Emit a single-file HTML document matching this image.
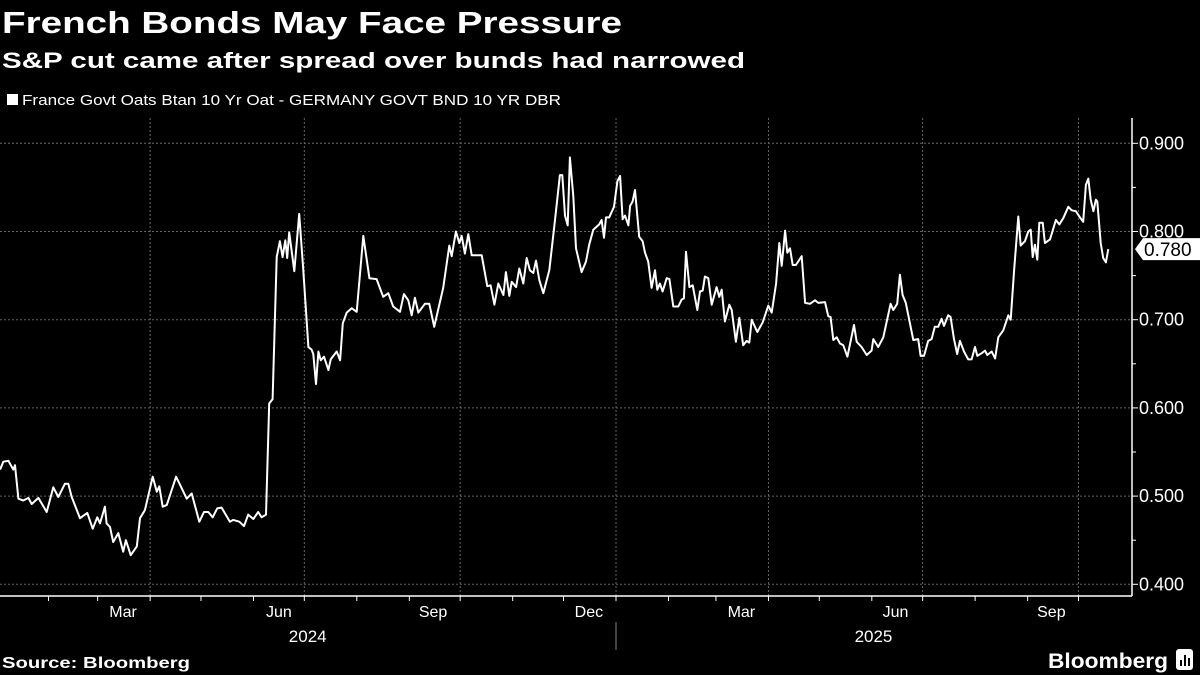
<!DOCTYPE html>
<html><head><meta charset="utf-8"><style>
html,body{margin:0;padding:0;background:#000;}
svg{display:block;font-family:"Liberation Sans",sans-serif;}
</style></head><body>
<svg id="chart" width="1200" height="675" viewBox="0 0 1200 675">
<rect width="1200" height="675" fill="#000"/>
<text x="2" y="33" fill="#fff" font-size="31" font-weight="bold" textLength="620" lengthAdjust="spacingAndGlyphs">French Bonds May Face Pressure</text>
<text x="2" y="68" fill="#fff" font-size="22" font-weight="bold" textLength="743" lengthAdjust="spacingAndGlyphs">S&amp;P cut came after spread over bunds had narrowed</text>
<g>
<rect x="7" y="94" width="11" height="11" fill="#fff"/>
<text x="22" y="105" fill="#fff" font-size="15" textLength="539" lengthAdjust="spacingAndGlyphs">France Govt Oats Btan 10 Yr Oat - GERMANY GOVT BND 10 YR DBR</text>
</g>
<g id="grid"></g>
<g id="axes"></g>
<g id="series"></g>
<text x="2" y="668" fill="#fff" font-size="16" font-weight="bold" textLength="188" lengthAdjust="spacingAndGlyphs">Source: Bloomberg</text>
<g>
<text x="1048" y="668" fill="#fff" font-size="21" font-weight="bold" textLength="120" lengthAdjust="spacingAndGlyphs">Bloomberg</text>
<rect x="1176" y="649" width="17" height="21" rx="3" fill="#fff"/>
<rect x="1180" y="660" width="2" height="6" fill="#000"/><rect x="1184" y="655" width="2" height="11" fill="#000"/><rect x="1188" y="658" width="2" height="8" fill="#000"/>
</g>
</svg>
<script>
// days since 2024-01-01
const days = [2.4,4.3,7.3,10.2,11.2,13.2,16.1,19.1,21.1,25,29.9,33.8,36.8,40.7,42.7,44.7,49.6,53.9,57.1,59.8,61.4,64.3,65.3,67.3,69.2,72.2,75.1,76.7,79.5,83.1,85,87.9,92.5,94.9,96.4,98.4,100.8,106.3,109.6,112.6,115.5,120,122.8,125.3,127.9,130.6,133.2,138.1,140.1,143.6,146.4,148.9,151.9,154.8,156.8,159.4,161.3,163.3,165.7,167.6,169.2,170.8,171.9,173.1,176.1,179,181.4,184.4,186.3,187.3,188.9,190.3,191.7,193.6,196.2,197.6,201.1,203.1,204.7,207,210,212.9,216.8,220.4,224.7,228.6,231.6,234.5,
238.5,240.8,243.4,245.4,247.3,249.3,253.2,255.8,258.7,264,267.6,269,271.5,273.5,274.9,276.8,278.8,280.8,286.7,290,292,294.2,296.5,299.5,301,303,304.4,307,308.9,311.3,313.3,315.2,317.2,318.8,320.7,323.1,326.6,330,332.9,334.3,335.9,337.5,338.8,340.8,342.4,345.7,348.3,350.2,352.6,356.1,357.5,358.9,360.1,362,364.8,366.8,368.4,369.9,371.3,373.3,374.3,375.8,377.2,379.7,381.7,383.1,385,387,389,390.4,391.9,393.5,395.9,397.5,399.8,402.8,404.8,406.1,407.3,409.3,411.3,414,415.6,417.2,418.5,420.5,422.5,425.4,427,428.4,430.3,432.9,434.3,436.8,438.8,441.1,443.1,444.7,446.1,449.4,452.6,455.9,457.9,460.5,462.4,463.8,465.8,467.1,468.7,470.3,472.2,
475.6,477.6,480.5,483.5,485.4,489.4,491.3,492.7,494.3,496.3,498.2,500.2,502.6,506.5,508.1,511,514,516.9,517.9,520.8,523.8,528.1,529.7,532,533.6,535.2,537.1,541.5,544.4,545.8,547.8,550.3,552.3,554.2,556.2,558.2,559.6,562.1,563.5,565.5,567.4,569,571.4,573.9,575.9,577.9,579.3,581.9,583.8,585.2,587.8,589.8,591.7,594.6,597.6,599,601,603.5,604.9,607.4,609.4,610.8,612,613.3,614.7,615.9,617.9,619.2,622.2,625.7,627.7,630,633,635,637.5,639.5,641.8,643.4,644.8,646.2,647.8,649.3,650.1,652.1,653.6,655.2,656.6];
const spread = [0.530,0.539,0.540,0.530,0.535,0.497,0.495,0.498,0.491,0.498,0.482,0.510,0.499,0.514,0.514,0.499,0.475,0.481,0.463,0.476,0.469,0.488,0.469,0.465,0.448,0.458,0.437,0.450,0.433,0.443,0.475,0.484,0.522,0.505,0.511,0.488,0.490,0.522,0.509,0.497,0.503,0.471,0.482,0.482,0.476,0.486,0.487,0.471,0.473,0.471,0.466,0.479,0.474,0.482,0.476,0.479,0.605,0.610,0.771,0.789,0.771,0.790,0.770,0.799,0.755,0.820,0.756,0.669,0.666,0.661,0.627,0.664,0.654,0.658,0.643,0.655,0.664,0.654,0.696,0.708,0.713,0.709,0.795,0.747,0.746,0.726,0.730,0.715,
0.709,0.729,0.722,0.705,0.725,0.708,0.718,0.718,0.692,0.736,0.784,0.772,0.800,0.787,0.795,0.775,0.797,0.773,0.773,0.738,0.739,0.717,0.741,0.728,0.754,0.727,0.743,0.737,0.758,0.741,0.770,0.756,0.753,0.767,0.745,0.730,0.756,0.813,0.864,0.864,0.818,0.807,0.884,0.840,0.781,0.754,0.766,0.785,0.802,0.808,0.813,0.793,0.816,0.816,0.828,0.857,0.863,0.814,0.818,0.807,0.829,0.834,0.847,0.794,0.789,0.776,0.766,0.736,0.756,0.734,0.741,0.732,0.747,0.746,0.715,0.715,0.723,0.724,0.777,0.737,0.739,0.711,0.732,0.733,0.749,0.747,0.717,0.737,0.726,0.734,0.698,0.717,0.711,0.675,0.702,0.671,0.676,0.674,0.700,0.686,0.697,0.716,0.708,0.741,0.787,0.761,0.801,0.776,0.781,0.762,0.762,
0.772,0.719,0.718,0.722,0.719,0.720,0.704,0.703,0.677,0.680,0.673,0.671,0.658,0.694,0.675,0.669,0.660,0.665,0.678,0.669,0.680,0.718,0.711,0.718,0.751,0.728,0.719,0.677,0.678,0.659,0.659,0.676,0.678,0.692,0.692,0.701,0.693,0.705,0.703,0.678,0.661,0.676,0.664,0.655,0.655,0.669,0.659,0.662,0.665,0.660,0.664,0.656,0.680,0.688,0.705,0.700,0.756,0.817,0.784,0.789,0.800,0.802,0.771,0.785,0.768,0.810,0.810,0.787,0.791,0.813,0.808,0.815,0.828,0.824,0.823,0.817,0.811,0.853,0.860,0.836,0.823,0.836,0.834,0.787,0.770,0.765,0.780];
const yTicks = [0.4,0.5,0.6,0.7,0.8,0.9];
const yTickLabels = ["0.400","0.500","0.600","0.700","0.800","0.900"];
const yMinorTicks = [0.45,0.55,0.65,0.75,0.85];
const monthStarts = [31,60,91,121,152,182,213,244,274,305,335,366,397,425,456,486,517,547,578,609,639];
const quarterStarts = [91,182,274,366,456,547,639];
const monthLabels = ["Mar","Jun","Sep","Dec","Mar","Jun","Sep"];
const monthLabelDays = [75,167,258,350,440,531,623];
const yearLabels = ["2024","2025"];
const yearLabelDays = [184,518];
const lastLabel = "0.780";

const NS="http://www.w3.org/2000/svg";
const X0=-4, PXD=1.694, AX=1132, AY=596;
function xs(d){return X0+d*PXD;}
function ys(v){return 143.3+(0.9-v)*882;}
function mk(tag,attrs,parent){const e=document.createElementNS(NS,tag);for(const k in attrs)e.setAttribute(k,attrs[k]);parent.appendChild(e);return e;}
const grid=document.getElementById('grid'), axes=document.getElementById('axes'), series=document.getElementById('series');

yTicks.forEach((v,i)=>{
  const y=ys(v);
  const g=mk('line',{x1:0,x2:AX,y1:y,y2:y,stroke:'#666','stroke-width':1,'stroke-dasharray':'2,2'},grid);
  
  
  const t=mk('line',{x1:AX,x2:AX+6,y1:y,y2:y,stroke:'#fff','stroke-width':1},axes);
  
  
  const l=mk('text',{x:AX+7,y:y+6,fill:'#fff','font-size':18},axes);
  l.textContent=yTickLabels[i];
  
  
});
yMinorTicks.forEach(v=>{
  const m=mk('line',{x1:AX,x2:AX+4,y1:ys(v),y2:ys(v),stroke:'#fff','stroke-width':1},axes);
  
  
});
quarterStarts.forEach(d=>{
  const g=mk('line',{x1:xs(d),x2:xs(d),y1:118,y2:AY,stroke:'#666','stroke-width':1,'stroke-dasharray':'2,2'},grid);
  
  
});
let a=mk('line',{x1:0,x2:AX,y1:AY,y2:AY,stroke:'#fff','stroke-width':1.5},axes);


a=mk('line',{x1:AX,x2:AX,y1:118,y2:AY,stroke:'#fff','stroke-width':1.5},axes);


monthStarts.forEach(d=>{
  const t=mk('line',{x1:xs(d),x2:xs(d),y1:AY,y2:AY+5,stroke:'#fff','stroke-width':1},axes);
  
  
});
monthLabels.forEach((s,i)=>{
  const t=mk('text',{x:xs(monthLabelDays[i]),y:617,fill:'#fff','font-size':16,'text-anchor':'middle'},axes);
  t.textContent=s;
  
  
});
yearLabels.forEach((s,i)=>{
  const t=mk('text',{x:xs(yearLabelDays[i]),y:642,fill:'#fff','font-size':17,'text-anchor':'middle'},axes);
  t.textContent=s;
  
  
});
a=mk('line',{x1:xs(366),x2:xs(366),y1:622,y2:650,stroke:'#888','stroke-width':1},axes);



const pts=days.map((d,i)=>xs(d).toFixed(1)+','+ys(spread[i]).toFixed(1)).join(' ');
const line=mk('polyline',{points:pts,fill:'none',stroke:'#fff','stroke-width':2,'stroke-linejoin':'round'},series);



const lv=spread[spread.length-1], ly=ys(lv);
const tag=mk('polygon',{points:`${AX+3},${ly} ${AX+11},${ly-11} ${1200},${ly-11} ${1200},${ly+11} ${AX+11},${ly+11}`,fill:'#fff'},axes);


const lt=mk('text',{x:AX+12,y:ly+7,fill:'#000','font-size':19},axes);
lt.textContent=lastLabel;


</script>
</body></html>
